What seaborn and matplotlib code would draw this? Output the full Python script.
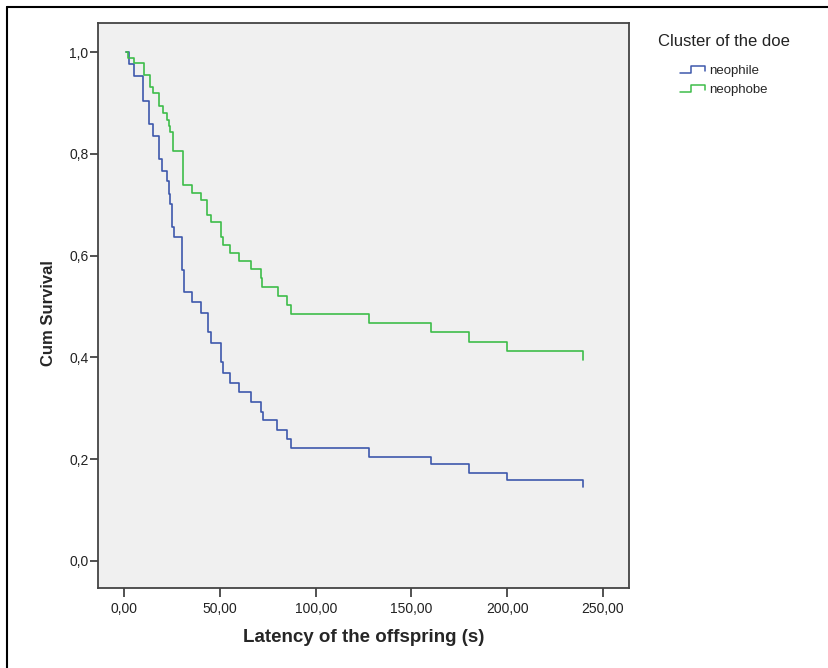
import numpy as np
import pandas as pd
import seaborn as sns
import matplotlib.pyplot as plt
from matplotlib.lines import Line2D
from matplotlib.legend_handler import HandlerBase
from matplotlib.ticker import FuncFormatter, MultipleLocator

## Kaplan-Meier steps
groups = ["neophile", "neophobe"]

neophile_time = [0.9, 2.3, 5.2, 9.9, 13.1, 15.2, 18.3, 19.9, 22.2, 23.3, 24.1, 25.0,
                 26.2, 30.3, 31.0, 35.2, 40.1, 43.6, 45.1, 50.4, 51.7, 55.2, 60.1,
                 66.2, 71.3, 72.3, 79.9, 85.0, 87.1, 128.0, 160.1, 180.2, 200.1, 239.8]
neophile_surv = [1.0, 0.977, 0.954, 0.905, 0.859, 0.835, 0.790, 0.767, 0.746, 0.722,
                 0.702, 0.657, 0.636, 0.572, 0.529, 0.508, 0.488, 0.449, 0.428, 0.390,
                 0.369, 0.350, 0.332, 0.313, 0.293, 0.276, 0.257, 0.239, 0.222, 0.205,
                 0.190, 0.173, 0.158, 0.145]

neophobe_time = [0.9, 2.1, 5.2, 10.3, 13.4, 15.2, 18.3, 20.1, 22.2, 23.2, 23.9, 25.3,
                 30.5, 35.2, 40.1, 43.4, 45.1, 50.4, 51.7, 55.2, 60.1, 66.2, 71.3,
                 72.1, 80.1, 85.0, 87.1, 128.0, 160.1, 180.2, 200.1, 239.8]
neophobe_surv = [1.0, 0.988, 0.978, 0.955, 0.932, 0.919, 0.894, 0.881, 0.867, 0.855,
                 0.844, 0.806, 0.739, 0.724, 0.710, 0.681, 0.666, 0.636, 0.621, 0.605,
                 0.590, 0.573, 0.556, 0.538, 0.521, 0.503, 0.485, 0.468, 0.449, 0.431,
                 0.413, 0.394]

colors = ["#3e58ac", "#3ebd4a"]

df = pd.concat([
    pd.DataFrame({"time": neophile_time, "surv": neophile_surv, "cluster": groups[0]}),
    pd.DataFrame({"time": neophobe_time, "surv": neophobe_surv, "cluster": groups[1]}),
])


class StepHandler(HandlerBase):
    # little step glyph like the SPSS legend
    def create_artists(self, legend, orig_handle, xdescent, ydescent, width, height, fontsize, trans):
        xs = np.array([0, 0.44, 0.44, 1.0, 1.0]) * width - xdescent
        ys = np.array([0.1, 0.1, 0.85, 0.85, 0.3]) * height - ydescent
        line = Line2D(xs, ys, color=orig_handle.get_color(), lw=1.1)
        line.set_transform(trans)
        return [line]


sns.set_style("white")
plt.rcParams["font.family"] = ["Liberation Sans", "DejaVu Sans"]

fig = plt.figure(figsize=(8.29, 6.68), dpi=100)
ax = fig.add_axes([98 / 829, 1 - 588 / 668, 531 / 829, 565 / 668])
ax.set_facecolor("#f0f0f0")

sns.lineplot(data=df, x="time", y="surv", hue="cluster", palette=dict(zip(groups, colors)),
             drawstyle="steps-post", estimator=None, sort=False, lw=1.2, legend=False, ax=ax)

ax.set_xlim(-13.74, 263.7)
ax.set_ylim(-0.0535, 1.0576)
ax.xaxis.set_major_locator(MultipleLocator(50))
ax.yaxis.set_major_locator(MultipleLocator(0.2))
ax.xaxis.set_major_formatter(FuncFormatter(lambda v, p: f"{v:.2f}".replace(".", ",")))
ax.yaxis.set_major_formatter(FuncFormatter(lambda v, p: f"{v:.1f}".replace(".", ",")))
ax.tick_params(axis="x", direction="out", length=6.5, width=1.2, color="#333333",
               labelsize=10, labelcolor="#222222", pad=3.6, bottom=True)
ax.tick_params(axis="y", direction="out", length=6, width=1.2, color="#333333",
               labelsize=10, labelcolor="#222222", pad=0.8, left=True)
for s in ax.spines.values():
    s.set_visible(True)
    s.set_color("#444444")
    s.set_linewidth(1.3)

ax.set_xlabel("Latency of the offspring (s)", fontsize=13.5, fontweight="bold")
ax.set_ylabel("Cum Survival", fontsize=12, fontweight="bold")
ax.xaxis.set_label_coords(0.5, -0.073)
ax.yaxis.set_label_coords(-0.08, 0.487)

fig.text(658 / 829, 1 - 42 / 668, "Cluster of the doe", fontsize=12, va="center", color="#222222")
handles = [Line2D([], [], color=c) for c in colors]
fig.legend(handles, groups, handler_map={Line2D: StepHandler()}, loc="upper left",
           bbox_to_anchor=(680 / 829, 1 - 64.5 / 668), frameon=False, fontsize=9.5,
           handlelength=1.9, handletextpad=0.3, labelspacing=0.55, borderpad=0,
           borderaxespad=0)

# frame lines at top and left of the picture
fig.add_artist(Line2D([7 / 829, 7 / 829], [0, 1 - 7 / 668], transform=fig.transFigure,
                      color="black", lw=1.5))
fig.add_artist(Line2D([7 / 829, 1], [1 - 7 / 668, 1 - 7 / 668], transform=fig.transFigure,
                      color="black", lw=1.5))

fig.savefig("out.png", dpi=100)
